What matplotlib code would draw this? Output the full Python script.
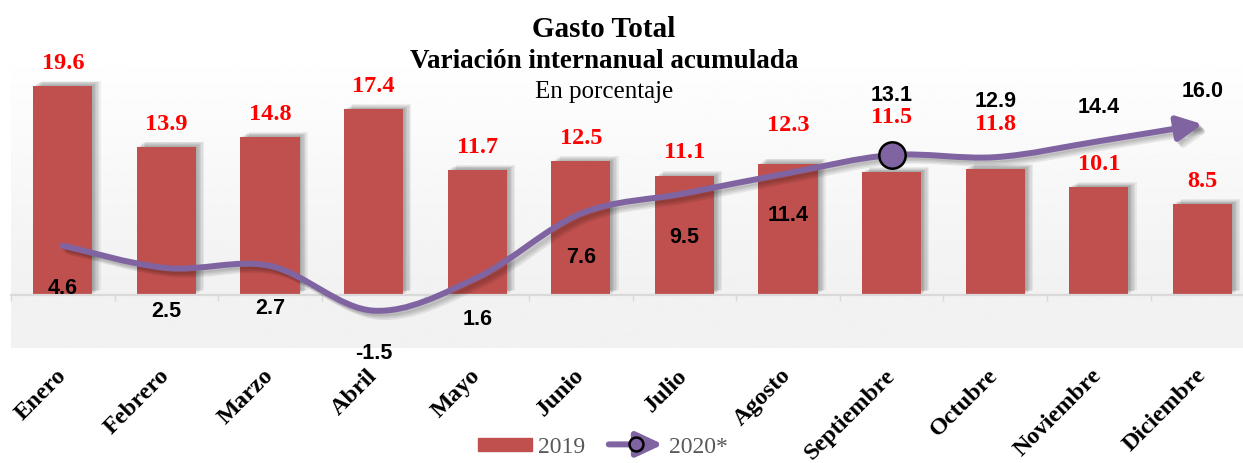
import numpy as np
import matplotlib
matplotlib.use("Agg")
import matplotlib.pyplot as plt
import matplotlib.patheffects as pe
from matplotlib.path import Path
from matplotlib.patches import FancyArrowPatch, Patch
from matplotlib.lines import Line2D
from matplotlib.legend_handler import HandlerBase

meses = ['Enero', 'Febrero', 'Marzo', 'Abril', 'Mayo', 'Junio', 'Julio',
         'Agosto', 'Septiembre', 'Octubre', 'Noviembre', 'Diciembre']
gasto_2019 = [19.6, 13.9, 14.8, 17.4, 11.7, 12.5, 11.1, 12.3, 11.5, 11.8, 10.1, 8.5]
gasto_2020 = [4.6, 2.5, 2.7, -1.5, 1.6, 7.6, 9.5, 11.4, 13.1, 12.9, 14.4, 16.0]

# label placement (pixels from mark, label centre), as laid out in the original
off_2019 = [25, 25, 25, 25, 25, 25, 26, 41, 57, 47, 25, 25]          # above bar top
off_2020 = [41, 41, 41, 41, 40, 42, 42, 40, -62, -58, -36, -35]      # below line point

ROJO = '#C0504D'
MORADO = '#8064A2'
SERIF = ['Liberation Serif', 'DejaVu Serif']
SANS = ['Liberation Sans', 'DejaVu Sans']
PT = 0.72  # points per pixel at dpi 100

fig = plt.figure(figsize=(12.43, 4.63), dpi=100)
ax = fig.add_axes([11 / 1243, 115 / 463, 1243.2 / 1243, 298.5 / 463])
ax.set_xlim(-0.5, 11.5)
ax.set_ylim(-5, 23)

# background: white -> light gray down to zero, flat gray below
ys = np.linspace(23, -5, 400)
shade = np.where(ys > 0, 1 - 0.055 * (1 - ys / 23), 0.949)
ax.imshow(shade[:, None], extent=(-0.5, 11.5, -5, 23), aspect='auto',
          cmap='gray', vmin=0, vmax=1, zorder=0, interpolation='bilinear')

x = np.arange(len(meses))
bar_fx = [pe.SimplePatchShadow(offset=(d, d * 0.6), shadow_rgbFace='black', alpha=0.06)
          for d in (1, 2, 3, 4, 5, 6)] + [pe.Normal()]
bars = ax.bar(x, gasto_2019, width=0.57, color=ROJO, zorder=2)
for b in bars:
    b.set_path_effects(bar_fx)

# smooth line (Excel-style bezier through the points) ending in an arrow
pts = np.column_stack([x, gasto_2020]).astype(float)
ext = np.vstack([pts[0], pts, pts[-1]])
verts = [tuple(pts[0])]
codes = [Path.MOVETO]
for i in range(len(pts) - 1):
    p0, p1, p2, p3 = ext[i], ext[i + 1], ext[i + 2], ext[i + 3]
    verts += [tuple(p1 + (p2 - p0) / 6), tuple(p2 - (p3 - p1) / 6), tuple(p2)]
    codes += [Path.CURVE4] * 3
curve = Path(verts, codes)
line_fx = [pe.SimpleLineShadow(offset=(d, -d), shadow_color='black', alpha=0.07)
           for d in (1.5, 2.5, 3.5, 4.5)] + [pe.Normal()]
arrow = FancyArrowPatch(path=curve, arrowstyle='-|>,head_length=15,head_width=7.5',
                        mutation_scale=1, lw=4.3, color=MORADO, zorder=4,
                        joinstyle='round', capstyle='round')
arrow.set_path_effects(line_fx)
ax.add_patch(arrow)
ax.plot(x[8], gasto_2020[8], 'o', ms=19, mfc=MORADO, mec='black', mew=1.8, zorder=5)

for i, v in enumerate(gasto_2019):
    ax.annotate(f'{v:.1f}', (x[i], v), xytext=(0, (off_2019[i] - 8) * PT),
                textcoords='offset points', ha='center', va='baseline',
                color='#FF0000', fontsize=17.5, fontweight='bold', family=SERIF, zorder=6)
for i, v in enumerate(gasto_2020):
    ax.annotate(f'{v:.1f}', (x[i], v), xytext=(0, -(off_2020[i] + 7.5) * PT),
                textcoords='offset points', ha='center', va='baseline',
                color='black', fontsize=15.5, fontweight='bold', family=SANS, zorder=6)

# axis at zero with ticks between categories
for s in ['top', 'right', 'left']:
    ax.spines[s].set_visible(False)
ax.spines['bottom'].set_position(('data', 0))
ax.spines['bottom'].set_color('#D9D9D9')
ax.spines['bottom'].set_linewidth(1.6)
ax.spines['bottom'].set_zorder(3)
ax.set_yticks([])
ax.set_xticks(x)
ax.set_xticks(np.arange(-0.5, 12, 1), minor=True)
ax.tick_params(axis='x', which='minor', length=4, width=1, color='#D9D9D9', direction='out')
ax.tick_params(axis='x', which='major', length=0, pad=56)
ax.set_xticklabels(meses, rotation=45, ha='right', va='center', rotation_mode='anchor',
                   fontsize=17.5, fontweight='bold', family=SERIF)

fig.text(0.486, 0.920, 'Gasto Total', ha='center', va='baseline',
         fontsize=21, fontweight='bold', family=SERIF)
fig.text(0.486, 0.8525, 'Variación internanual acumulada', ha='center', va='baseline',
         fontsize=19.5, fontweight='bold', family=SERIF)
fig.text(0.486, 0.789, 'En porcentaje', ha='center', va='baseline',
         fontsize=18, family=SERIF)


class ArrowHandler(HandlerBase):
    def create_artists(self, legend, orig_handle, xdescent, ydescent, width, height,
                       fontsize, trans):
        y = height / 2 - ydescent
        a = FancyArrowPatch((-xdescent, y), (-xdescent + width, y),
                            arrowstyle='-|>,head_length=16,head_width=7.5', mutation_scale=1,
                            lw=4.3, color=MORADO, shrinkA=0, shrinkB=0,
                            capstyle='round', transform=trans)
        d = Line2D([-xdescent + width * 0.5], [y], marker='o', ms=10, mfc=MORADO,
                   mec='black', mew=1.8, transform=trans)
        return [a, d]


h2019 = Patch(color=ROJO)
h2020 = Line2D([], [], color=MORADO)
leg = fig.legend([h2019, h2020], ['2019', '2020*'], loc='center',
                 bbox_to_anchor=(0.485, 0.034), ncol=2, frameon=False,
                 handler_map={h2020: ArrowHandler()}, handlelength=2.3, handleheight=0.5,
                 handletextpad=0.25, columnspacing=1.0,
                 prop={'family': SERIF, 'size': 17})
for t in leg.get_texts():
    t.set_color('#595959')

fig.savefig('out.png', dpi=100)
